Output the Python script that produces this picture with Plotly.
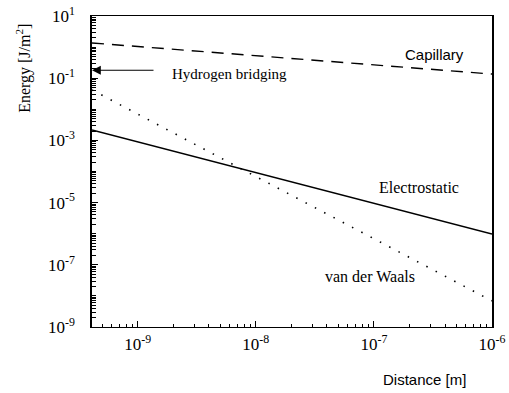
import math
import plotly.graph_objects as go

# Data (log-log straight lines)
distance = [4.1e-10, 1e-9, 1e-8, 1e-7, 1e-6]
capillary = [1.36, 1.04, 0.53, 0.27, 0.136]
electrostatic = [2.16e-3, 8.9e-4, 9.1e-5, 9.5e-6, 9.8e-7]
van_der_waals = [4.2e-2, 6.9e-3, 6.9e-5, 6.9e-7, 6.9e-9]
hydrogen_bridging = 0.18

x_tickvals = [1e-9, 1e-8, 1e-7, 1e-6]
x_ticktext = ["10<sup>-9</sup>", "10<sup>-8</sup>", "10<sup>-7</sup>", "10<sup>-6</sup>"]
y_tickvals = [1e1, 1e-1, 1e-3, 1e-5, 1e-7, 1e-9]
y_ticktext = ["10<sup>1</sup>", "10<sup>-1</sup>", "10<sup>-3</sup>", "10<sup>-5</sup>",
              "10<sup>-7</sup>", "10<sup>-9</sup>"]
x_minor = [m * 10.0 ** e for e in range(-10, -6) for m in range(2, 10)]
y_minor = [m * 10.0 ** e for e in range(-9, 1) for m in range(1, 10)]

SERIF = "Liberation Serif, DejaVu Serif, serif"
SANS = "Liberation Sans, DejaVu Sans, sans-serif"

fig = go.Figure()
fig.add_trace(go.Scatter(x=distance, y=capillary, mode="lines",
                         line=dict(color="black", width=1.4, dash="12px,8px"),
                         showlegend=False, name="Capillary"))
fig.add_trace(go.Scatter(x=distance, y=electrostatic, mode="lines",
                         line=dict(color="black", width=1.4),
                         showlegend=False, name="Electrostatic"))
fig.add_trace(go.Scatter(x=distance, y=van_der_waals, mode="lines",
                         line=dict(color="black", width=1.6, dash="1.5px,9px"),
                         showlegend=False, name="van der Waals"))

xmin_log = math.log10(distance[0])

fig.add_annotation(x=xmin_log, y=math.log10(hydrogen_bridging), xref="x", yref="y",
                   ax=63, ay=0, showarrow=True, arrowhead=2, arrowsize=1.6,
                   arrowwidth=1.1, arrowcolor="black", text="")
fig.add_annotation(x=-8.73, y=-0.86, xref="x", yref="y", text="Hydrogen bridging",
                   showarrow=False, xanchor="left", yanchor="middle",
                   font=dict(family=SERIF, size=15, color="black"))
fig.add_annotation(x=-6.75, y=-0.25, xref="x", yref="y", text="Capillary",
                   showarrow=False, xanchor="left", yanchor="middle",
                   font=dict(family=SANS, size=15, color="black"))
fig.add_annotation(x=-6.975, y=-4.53, xref="x", yref="y", text="Electrostatic",
                   showarrow=False, xanchor="left", yanchor="middle",
                   font=dict(family=SERIF, size=16, color="black"))
fig.add_annotation(x=-7.43, y=-7.39, xref="x", yref="y", text="van der Waals",
                   showarrow=False, xanchor="left", yanchor="middle",
                   font=dict(family=SERIF, size=16, color="black"))

fig.add_annotation(x=-0.17, y=0.83, xref="paper", yref="paper",
                   xanchor="center", yanchor="middle",
                   text="Energy [J/m<sup>2</sup>]", textangle=-90, showarrow=False,
                   font=dict(family=SERIF, size=16, color="black"))
fig.add_annotation(x=0.83, y=-0.17, xref="paper", yref="paper",
                   xanchor="center", yanchor="middle",
                   text="Distance [m]", showarrow=False,
                   font=dict(family=SANS, size=15, color="black"))

fig.update_xaxes(type="log", range=[xmin_log, -6.0], showgrid=False, zeroline=False,
                 showline=True, linecolor="black", linewidth=1, mirror=True,
                 tickmode="array", tickvals=x_tickvals, ticktext=x_ticktext,
                 ticks="inside", ticklen=6, tickcolor="black", ticklabelstandoff=2,
                 minor=dict(ticks="inside", ticklen=3, tickcolor="black", showgrid=False,
                            tickmode="array", tickvals=x_minor),
                 tickfont=dict(family=SERIF, size=17, color="black"))
fig.update_yaxes(type="log", range=[-9, 1], showgrid=False, zeroline=False,
                 showline=True, linecolor="black", linewidth=1.5, mirror=True,
                 tickmode="array", tickvals=y_tickvals, ticktext=y_ticktext,
                 ticks="inside", ticklen=6, tickcolor="black", ticklabelstandoff=12,
                 minor=dict(ticks="inside", ticklen=4, tickcolor="black", showgrid=False,
                            tickmode="array", tickvals=y_minor),
                 tickfont=dict(family=SERIF, size=17, color="black"))

fig.update_layout(width=509, height=393, paper_bgcolor="white", plot_bgcolor="white",
                  margin=dict(l=92, r=17, t=16, b=66, autoexpand=False), showlegend=False)

fig.write_html("out.html", config={"displayModeBar": False},
               post_script="document.body.style.margin='0';document.body.style.overflow='hidden';")
